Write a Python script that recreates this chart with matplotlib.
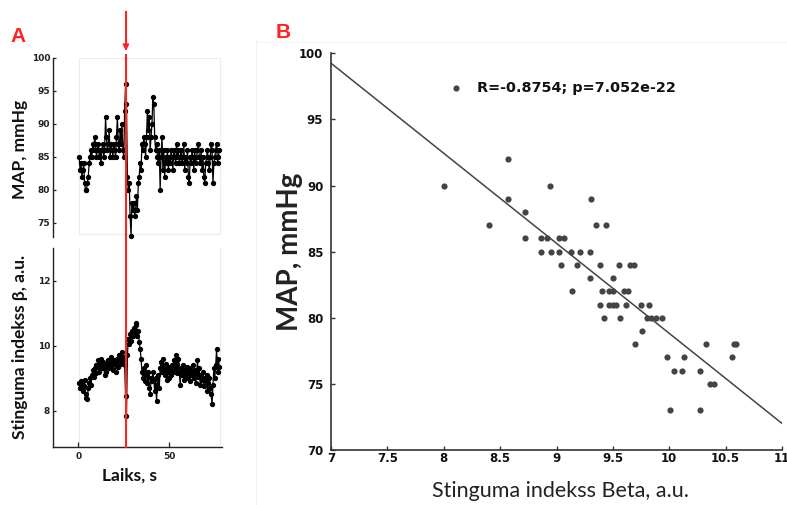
import numpy as np
import matplotlib
matplotlib.use("Agg")
import matplotlib.pyplot as plt
from matplotlib import transforms
from matplotlib.patches import Rectangle
from matplotlib.lines import Line2D

# ---------------- data ----------------
# Panel A: beat-to-beat recordings, sampled every 0.5 s starting at 0.5 s
sample_start = 0.5
sample_step = 0.5
map_series = [
    85, 83, 84, 82, 83, 84, 81, 80, 80, 81,
    82, 84, 85, 86, 85, 87, 86, 88, 87, 85,
    86, 87, 85, 86, 84, 86, 87, 85, 86, 91,
    88, 86, 87, 89, 85, 87, 86, 85, 87, 86,
    85, 88, 91, 87, 86, 89, 87, 90, 86, 85,
    92, 96, 93, 82, 80, 81, 76, 73, 78, 77,
    78, 76, 77, 79, 77, 81, 82, 84, 83, 87,
    86, 88, 87, 85, 88, 92, 89, 91, 86, 88,
    90, 94, 93, 88, 86, 87, 85, 84, 86, 80,
    85, 88, 83, 86, 82, 85, 84, 86, 83, 85,
    84, 86, 85, 83, 86, 85, 84, 87, 85, 86,
    84, 85, 86, 84, 85, 87, 83, 85, 84, 86,
    82, 81, 85, 84, 86, 85, 83, 86, 84, 85,
    86, 87, 85, 84, 86, 83, 85, 82, 81, 84,
    85, 86, 84, 83, 85, 87, 86, 81, 84, 85,
    86, 87, 84, 85, 86,
]
beta_series = [
    8.85, 8.70, 8.90, 8.80, 8.60, 8.75, 8.95, 8.40, 8.50, 8.35,
    8.70, 8.85, 9.00, 8.80, 9.10, 9.25, 9.05, 9.30, 9.15, 9.40,
    9.35, 9.55, 9.20, 9.45, 9.60, 9.30, 9.50, 9.35, 9.10, 9.45,
    9.20, 9.40, 9.55, 9.30, 9.50, 9.65, 9.40, 9.25, 9.55, 9.45,
    9.20, 9.50, 9.60, 9.35, 9.70, 9.55, 9.45, 9.80, 9.50, 9.65,
    9.40, 8.45, 7.85, 9.70, 10.20, 10.05, 10.35, 10.15, 10.45, 10.30,
    10.55, 10.40, 10.70, 10.65, 10.30, 10.45, 10.10, 9.90, 9.60, 9.20,
    9.00, 9.30, 8.90, 9.40, 9.10, 8.85, 9.20, 8.70, 8.50, 9.00,
    8.90, 9.20, 8.95, 8.60, 9.00, 8.30, 8.80, 9.10, 8.70, 9.30,
    9.50, 9.20, 9.60, 9.30, 9.10, 9.45, 8.95, 9.20, 9.35, 9.00,
    9.30, 9.10, 9.40, 9.20, 9.55, 9.30, 9.70, 9.45, 9.15, 9.60,
    9.20, 8.80, 9.30, 9.10, 9.40, 8.95, 9.25, 9.05, 9.35, 9.15,
    9.00, 9.30, 8.90, 9.20, 9.10, 9.40, 9.00, 9.25, 8.85, 9.15,
    9.55, 9.05, 9.30, 8.80, 9.10, 8.95, 9.20, 8.75, 9.00, 8.90,
    9.10, 8.60, 8.85, 9.00, 8.70, 8.50, 8.20, 8.80, 9.30, 9.00,
    9.40, 9.90, 9.20, 9.60, 9.35,
]
event_time = 26.2  # moment marked by the red line and arrow

# Panel B: MAP against stiffness index beta
scatter_beta = [
    8.57,
    8.00, 8.94,
    8.57, 9.31,
    8.72,
    8.40, 9.35, 9.44,
    8.72, 8.86, 8.92, 9.02, 9.07,
    8.86, 8.95, 9.02, 9.13, 9.21, 9.30,
    9.04, 9.18, 9.39, 9.55, 9.65, 9.69,
    9.30, 9.50,
    9.14, 9.40, 9.47, 9.50, 9.60, 9.63,
    9.39, 9.47, 9.50, 9.53, 9.62, 9.75, 9.82,
    9.42, 9.56, 9.80, 9.84, 9.88, 9.94,
    9.76,
    9.70, 10.33, 10.57, 10.59,
    9.98, 10.13, 10.56,
    10.04, 10.11, 10.27,
    10.36, 10.40,
    10.01, 10.27,
]
scatter_map = [
    92,
    90, 90,
    89, 89,
    88,
    87, 87, 87,
    86, 86, 86, 86, 86,
    85, 85, 85, 85, 85, 85,
    84, 84, 84, 84, 84, 84,
    83, 83,
    82, 82, 82, 82, 82, 82,
    81, 81, 81, 81, 81, 81, 81,
    80, 80, 80, 80, 80, 80,
    79,
    78, 78, 78, 78,
    77, 77, 77,
    76, 76, 76,
    75, 75,
    73, 73,
]
fit_slope = -6.81
fit_intercept = 146.92
stats_label = "R=-0.8754; p=7.052e-22"

x_ticks_b = [7, 7.5, 8, 8.5, 9, 9.5, 10, 10.5, 11]
x_tick_labels_b = ["7", "7.5", "8", "8.5", "9", "9.5", "10", "10.5", "11"]
y_ticks_b = [70, 75, 80, 85, 90, 95, 100]

# ---------------- styling ----------------
RED = "#ff2222"
AX_COL = "#222222"
label_font = ["Lato", "DejaVu Sans"]
tick_font = "DejaVu Sans"

fig = plt.figure(figsize=(7.87, 5.05), dpi=100)
W, H = 787, 505


def rect(x0, y0, x1, y1):
    """Axes rectangle from pixel edges (top-left origin)."""
    return [x0 / W, 1 - y1 / H, (x1 - x0) / W, (y1 - y0) / H]


time = sample_start + sample_step * np.arange(len(map_series))

ax_map = fig.add_axes(rect(53.3, 57.7, 221.7, 236.7))
ax_beta = fig.add_axes(rect(53.3, 248.3, 221.7, 446.7), sharex=ax_map)

for ax in (ax_map, ax_beta):
    for side in ("top", "right"):
        ax.spines[side].set_visible(False)
    ax.spines["left"].set_color(AX_COL)
    ax.spines["left"].set_linewidth(1.0)
    ax.tick_params(axis="y", direction="in", length=2.5, width=0.9,
                   colors=AX_COL, labelsize=6.5, pad=2.2)

ax_map.spines["bottom"].set_visible(False)
ax_map.tick_params(axis="x", bottom=False, labelbottom=False)

ax_map.plot(time, map_series, color="black", lw=0.9, marker="o",
            ms=2.8, mfc="black", mec="black", clip_on=False, zorder=3)
ax_map.set_xlim(-13.7, 78.8)
ax_map.set_ylim(72.9, 100)
ax_map.set_yticks([75, 80, 85, 90, 95, 100])
ax_map.add_patch(Rectangle((0.3, 73.3), 77.4, 26.7, fill=False,
                           edgecolor="#ececec", lw=0.8, zorder=0))

ax_beta.plot(time, beta_series, color="black", lw=0.9, marker="o",
             ms=2.8, mfc="black", mec="black", clip_on=False, zorder=3)
ax_beta.set_ylim(6.89, 13.0)
ax_beta.set_yticks([8, 10, 12])
ax_beta.set_xticks([0, 50])
ax_beta.spines["bottom"].set_color(AX_COL)
ax_beta.spines["bottom"].set_linewidth(1.0)
ax_beta.tick_params(axis="x", direction="in", length=3.5, width=0.9,
                    colors=AX_COL, labelsize=6.5, pad=4)
ax_beta.axvline(0.3, color="#ececec", lw=0.8, zorder=0)
ax_beta.axvline(77.7, color="#ececec", lw=0.8, zorder=0)
for ax in (ax_map, ax_beta):
    for lab in ax.get_xticklabels() + ax.get_yticklabels():
        lab.set_fontweight("bold")
        lab.set_family(tick_font)

ax_map.set_ylabel("MAP, mmHg", family=label_font, fontsize=12.5,
                  fontweight="bold", color="#111111")
ax_map.yaxis.set_label_coords(-0.148, 0.49)
ax_beta.set_ylabel("Stinguma indekss β, a.u.", family=label_font,
                   fontsize=12.5, fontweight="bold", color="#111111")
ax_beta.yaxis.set_label_coords(-0.148, 0.505)
ax_beta.set_xlabel("Laiks, s", family=label_font, fontsize=12.5,
                   fontweight="bold", color="#111111")
ax_beta.xaxis.set_label_coords(0.455, -0.107)

# event marker spanning both traces, plus the arrow above it
blend = transforms.blended_transform_factory(ax_beta.transData, fig.transFigure)
fig.add_artist(Line2D([event_time, event_time], [1 - 55 / H, 1 - 446.7 / H],
                      transform=blend, color=RED, lw=1.5, zorder=5))
fig.add_artist(Line2D([event_time, event_time], [1 - 12 / H, 1 - 44 / H],
                      transform=blend, color=RED, lw=1.5))
ax_beta.annotate("", xy=(event_time, 1 - 51 / H), xycoords=blend,
                 xytext=(event_time, 1 - 38 / H), textcoords=blend,
                 arrowprops=dict(arrowstyle="-|>", color=RED, lw=1.2,
                                 mutation_scale=9, shrinkA=0, shrinkB=0),
                 annotation_clip=False)

# ---------------- panel B ----------------
ax_b = fig.add_axes(rect(331, 53.3, 782, 450))
for side in ("top", "right"):
    ax_b.spines[side].set_visible(False)
for side in ("left", "bottom"):
    ax_b.spines[side].set_color("#333333")
    ax_b.spines[side].set_linewidth(1.2)

pts = ax_b.scatter(scatter_beta, scatter_map, s=20, color="#444444",
                   linewidths=0, zorder=3, label=stats_label)
fit_x = np.array([7, 11])
ax_b.plot(fit_x, fit_intercept + fit_slope * fit_x, color="#444444",
          lw=1.1, zorder=2)
ax_b.set_xlim(7, 11)
ax_b.set_ylim(70, 100)
ax_b.set_xticks(x_ticks_b)
ax_b.set_xticklabels(x_tick_labels_b)
ax_b.set_yticks(y_ticks_b)
ax_b.tick_params(axis="x", direction="in", length=3, width=1,
                 colors="#333333", labelsize=8.5, pad=1.5,
                 labelcolor="#111111")
ax_b.tick_params(axis="y", direction="in", length=3, width=1,
                 colors="#333333", labelsize=8.5, pad=5.5,
                 labelcolor="#111111")
for lab in ax_b.get_xticklabels() + ax_b.get_yticklabels():
    lab.set_fontweight("bold")
    lab.set_family(tick_font)

ax_b.set_xlabel("Stinguma indekss Beta, a.u.", family=label_font,
                fontsize=15.5, color="#222222")
ax_b.xaxis.set_label_coords(0.509, -0.078)
ax_b.set_ylabel("MAP, mmHg", family=label_font, fontsize=20,
                color="#222222", fontweight="bold")
ax_b.yaxis.set_label_coords(-0.062, 0.50)

leg = ax_b.legend(handles=[pts], labels=[stats_label], loc="center left",
                  bbox_to_anchor=(8.068, 97.4),
                  bbox_transform=ax_b.transData, frameon=False,
                  handlelength=0.6, handletextpad=1.16, borderpad=0,
                  borderaxespad=0,
                  prop=dict(family=tick_font, weight="bold", size=10.4))
for t in leg.get_texts():
    t.set_color("#111111")

# panel letters and faint panel borders
fig.text(10 / W, 1 - 36 / H, "A", color=RED, fontsize=15, fontweight="bold",
         family="Liberation Sans", va="center", ha="left")
fig.text(276 / W, 1 - 32 / H, "B", color=RED, fontsize=15, fontweight="bold",
         family="Liberation Sans", va="center", ha="left")
fig.add_artist(Line2D([256 / W, 256 / W], [0, 1 - 40 / H],
                      color="#f2f2f2", lw=0.8))
fig.add_artist(Line2D([256 / W, 1], [1 - 41.5 / H, 1 - 41.5 / H],
                      color="#f4f4f4", lw=0.8))

fig.savefig("out.png", dpi=100)
